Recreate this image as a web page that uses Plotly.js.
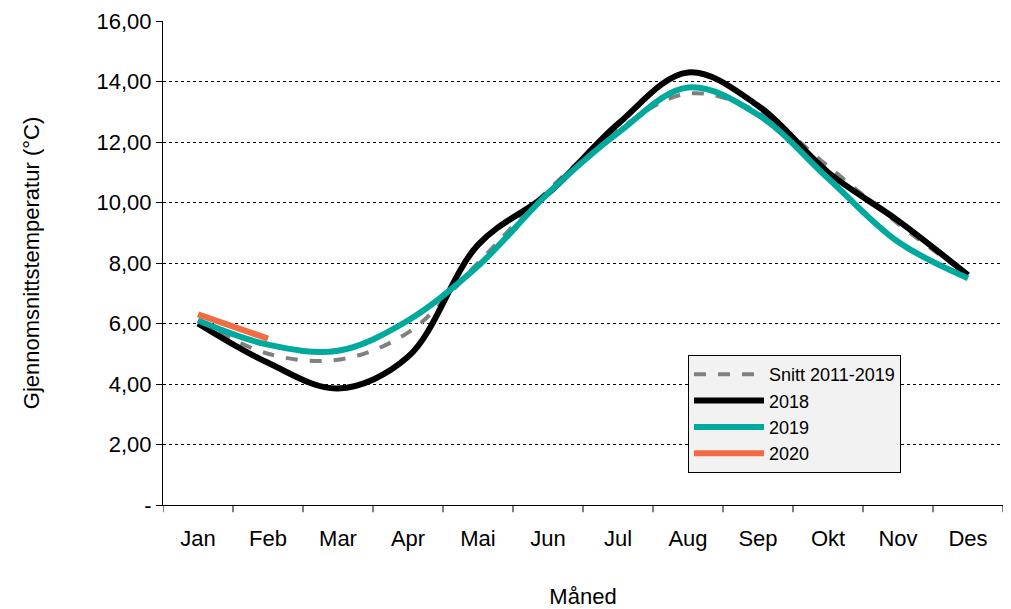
<!DOCTYPE html>
<html>
<head>
<meta charset="utf-8">
<script src="https://cdn.plot.ly/plotly-3.0.1.min.js"></script>
<style>body{margin:0}#chart{width:1011px;height:609px}</style>
</head>
<body>
<div id="chart"></div>
<script>
const months = ['Jan','Feb','Mar','Apr','Mai','Jun','Jul','Aug','Sep','Okt','Nov','Des'];
const snitt = [6.1, 5.0, 4.8, 5.7, 8.0, 10.4, 12.4, 13.6, 13.0, 11.2, 9.3, 7.6];
const y2018 = [6.0, 4.7, 3.85, 4.9, 8.6, 10.3, 12.6, 14.3, 13.2, 11.0, 9.4, 7.6];
const y2019 = [6.1, 5.3, 5.1, 6.1, 7.9, 10.3, 12.3, 13.8, 12.9, 10.8, 8.7, 7.5];
const y2020 = [6.3, 5.5];
const yTicks = [0, 2, 4, 6, 8, 10, 12, 14, 16];
const yLabels = ['-', '2,00', '4,00', '6,00', '8,00', '10,00', '12,00', '14,00', '16,00'];

const idx = months.map((m, i) => i);
function trace(name, y, color, width, dash) {
  return {x: idx.slice(0, y.length), y: y, name: name, mode: 'lines', type: 'scatter',
    line: {shape: 'spline', smoothing: 1, color: color, width: width, dash: dash || 'solid'}};
}
const data = [
  trace('Snitt 2011-2019', snitt, '#808080', 4, 'dash'),
  trace('2018', y2018, '#000000', 6),
  trace('2019', y2019, '#00A99D', 6),
  trace('2020', y2020, '#F26B43', 6)
];
const layout = {
  width: 1011, height: 609,
  margin: {l: 163, r: 8, t: 21, b: 104},
  paper_bgcolor: '#fff', plot_bgcolor: '#fff',
  font: {family: 'Liberation Sans, Arial', size: 22, color: '#000'},
  showlegend: true,
  legend: {x: 0.625, y: 0.31, xanchor: 'left', yanchor: 'top', bgcolor: '#f2f2f2',
    bordercolor: '#000', borderwidth: 1, font: {size: 18}, itemwidth: 70,
    tracegroupgap: 14, traceorder: 'normal'},
  xaxis: {
    range: [-0.5, 11.5], tickvals: idx, ticktext: months, showgrid: false,
    showline: true, linecolor: '#000', zeroline: false, ticks: 'outside', ticklen: 14,
    tickcolor: 'rgba(0,0,0,0)',
    title: {text: 'Måned', standoff: 38, font: {size: 22}}
  },
  yaxis: {
    range: [0, 16], tickvals: yTicks, ticktext: yLabels, showgrid: true,
    gridcolor: '#000', griddash: 'dot', gridwidth: 1, zeroline: false,
    showline: true, linecolor: '#000', ticks: 'outside', ticklen: 6, tickcolor: '#000',
    title: {text: 'Gjennomsnittstemperatur (°C)', standoff: 50, font: {size: 22}}
  },
  shapes: months.concat(['']).map((m, i) => ({type: 'line', xref: 'x', yref: 'paper',
    x0: i - 0.5, x1: i - 0.5, y0: 0, y1: -0.015, line: {color: '#000', width: 1}}))
};
Plotly.newPlot('chart', data, layout, {displayModeBar: false});
</script>
</body>
</html>
